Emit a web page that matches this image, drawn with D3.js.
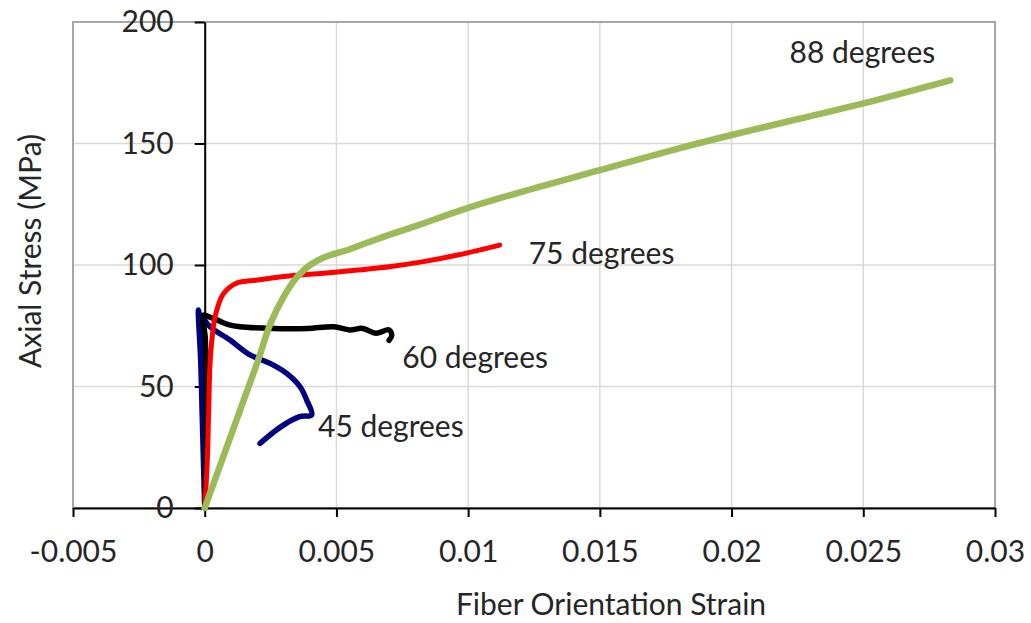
<!DOCTYPE html>
<html>
<head>
<meta charset="utf-8">
<script src="https://cdn.jsdelivr.net/npm/d3@7"></script>
<style>
  html, body { margin: 0; padding: 0; background: #fff; }
  svg { display: block; font-family: Lato, "Open Sans", sans-serif; }
</style>
</head>
<body>
<svg id="chart" width="1031" height="623"></svg>
<script>
// Axis ticks and labels
const xTicks = [-0.005, 0, 0.005, 0.01, 0.015, 0.02, 0.025, 0.03];
const xTickLabels = ["-0.005", "0", "0.005", "0.01", "0.015", "0.02", "0.025", "0.03"];
const yTicks = [0, 50, 100, 150, 200];
const yTickLabels = ["0", "50", "100", "150", "200"];

// Series: [fiber orientation strain, axial stress (MPa)]
const seriesNames = ["45 degrees", "60 degrees", "75 degrees", "88 degrees"];

const deg45 = [
  [0, 0], [-0.00005, 20], [-0.0001, 40], [-0.00015, 60], [-0.00024, 81.5],
  [-0.0001, 70], [0.00005, 45], [0.0001, 60], [-0.00015, 79],
  [0.0002, 74.6], [0.00096, 69.1], [0.00172, 63], [0.00248, 59.5],
  [0.00311, 55.4], [0.00362, 49.9], [0.00387, 44.4], [0.00406, 38.3],
  [0.0036, 37.6], [0.0029, 33.5], [0.0021, 26.6]
];

const deg60 = [
  [0, 0], [0.00005, 25], [0.00005, 50], [0.00002, 70], [-0.00005, 79.4],
  [0.0002, 78.5], [0.00046, 77.4], [0.0009, 75.5], [0.00134, 74.6],
  [0.0026, 73.9], [0.0039, 73.9], [0.0049, 74.6], [0.0055, 73.3],
  [0.006, 73.9], [0.0065, 71.9], [0.007, 73.3], [0.0071, 71], [0.007, 69]
];

const deg75 = [
  [0, 0], [0.0001, 20], [0.00015, 40], [0.0002, 59], [0.0003, 72],
  [0.0004, 79], [0.0007, 88], [0.0012, 92.5], [0.002, 93.8],
  [0.0032, 95.5], [0.0045, 96.6], [0.0058, 97.9], [0.007, 99.3],
  [0.0083, 101.4], [0.0096, 104.1], [0.0112, 108.2]
];

const deg88 = [
  [0, 0], [0.0005, 15], [0.001, 30], [0.0015, 45], [0.002, 60],
  [0.0025, 76], [0.003, 87], [0.0035, 95], [0.004, 100], [0.0045, 103],
  [0.0055, 106.5], [0.0065, 110.5], [0.008, 116], [0.01, 123.5],
  [0.012, 130], [0.015, 139], [0.018, 148], [0.02, 153.5],
  [0.0225, 160], [0.025, 166.5], [0.0283, 176]
];

const seriesColors = ["#000080", "#000000", "#ff0000", "#9bbb59"];
const seriesWidths = [5.5, 5.5, 5, 6.5];

// Label anchor points (strain, stress) for each curve's name
const labelAt = [
  [0.0043, 29.2],
  [0.0075, 57.5],
  [0.0123, 100.5],
  [0.0222, 183]
];

const svg = d3.select("#chart");
const plot = { left: 73, right: 995, top: 22, bottom: 508 };

const x = d3.scaleLinear().domain([-0.005, 0.03]).range([plot.left, plot.right]);
const y = d3.scaleLinear().domain([0, 200]).range([plot.bottom, plot.top]);

// Gridlines
const grid = svg.append("g");
grid.selectAll("line.v")
  .data(xTicks.slice(1, -1))
  .join("line")
  .attr("x1", d => x(d)).attr("x2", d => x(d))
  .attr("y1", plot.top).attr("y2", plot.bottom)
  .attr("stroke", "#d9d9d9").attr("stroke-width", 1.5);
grid.selectAll("line.h")
  .data(yTicks.slice(1, -1))
  .join("line")
  .attr("x1", plot.left).attr("x2", plot.right)
  .attr("y1", d => y(d)).attr("y2", d => y(d))
  .attr("stroke", "#d9d9d9").attr("stroke-width", 1.5);

// Plot-area border
svg.append("rect")
  .attr("x", plot.left).attr("y", plot.top)
  .attr("width", plot.right - plot.left).attr("height", plot.bottom - plot.top)
  .attr("fill", "none").attr("stroke", "#a6a6a6").attr("stroke-width", 2);

// Axes crossing at the origin
const xAxis = d3.axisBottom(x)
  .tickValues(xTicks)
  .tickFormat((d, i) => xTickLabels[i])
  .tickSizeInner(9).tickSizeOuter(0).tickPadding(24);
const yAxis = d3.axisLeft(y)
  .tickValues(yTicks)
  .tickFormat((d, i) => yTickLabels[i])
  .tickSizeInner(10).tickSizeOuter(0).tickPadding(21);

const gx = svg.append("g").attr("transform", `translate(0,${y(0)})`).call(xAxis);
const gy = svg.append("g").attr("transform", `translate(${x(0)},0)`).call(yAxis);

[gx, gy].forEach(g => {
  g.select(".domain").attr("stroke", "#000").attr("stroke-width", 2);
  g.selectAll(".tick line").attr("stroke", "#000").attr("stroke-width", 2);
  g.selectAll(".tick text")
    .attr("fill", "#262626")
    .style("font-family", "Lato, sans-serif")
    .style("font-size", "30px");
});

// Curves
const line = d3.line().x(d => x(d[0])).y(d => y(d[1])).curve(d3.curveCatmullRom.alpha(0.5));
const allSeries = [deg45, deg60, deg75, deg88];
svg.append("g").selectAll("path")
  .data(allSeries)
  .join("path")
  .attr("d", d => line(d))
  .attr("fill", "none")
  .attr("stroke", (d, i) => seriesColors[i])
  .attr("stroke-width", (d, i) => seriesWidths[i])
  .attr("stroke-linejoin", "round")
  .attr("stroke-linecap", "round");

// Curve names
svg.append("g").selectAll("text")
  .data(seriesNames)
  .join("text")
  .attr("x", (d, i) => x(labelAt[i][0]))
  .attr("y", (d, i) => y(labelAt[i][1]))
  .attr("fill", "#262626")
  .style("font-size", "30px")
  .text(d => d);

// Axis titles
svg.append("text")
  .attr("x", 611).attr("y", 615)
  .attr("text-anchor", "middle")
  .attr("fill", "#262626")
  .style("font-size", "30px")
  .text("Fiber Orientation Strain");

svg.append("text")
  .attr("transform", "translate(41,251) rotate(-90)")
  .attr("text-anchor", "middle")
  .attr("fill", "#262626")
  .style("font-size", "30px")
  .text("Axial Stress (MPa)");
</script>
</body>
</html>
